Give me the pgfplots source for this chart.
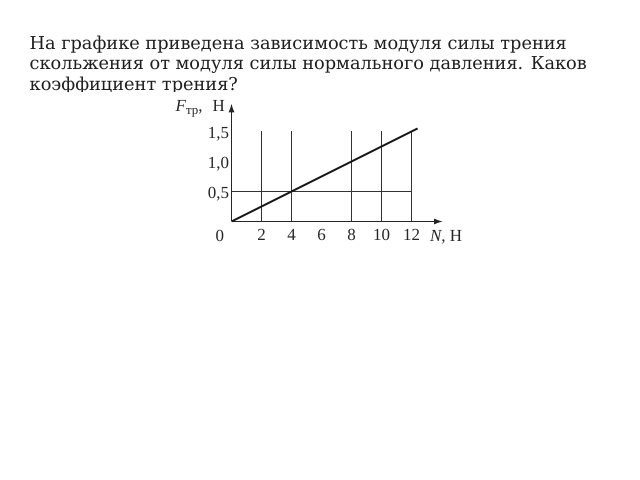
\documentclass[border=0pt]{standalone}
\usepackage{pgfplots}
\pgfplotsset{compat=1.18}
\usepackage{fontspec}
\setmainfont{Liberation Serif}
\newfontfamily\dejaserif{DejaVu Serif}
\usetikzlibrary{arrows.meta}
\begin{document}
\begin{tikzpicture}
\useasboundingbox (0bp,0bp) rectangle (640bp,480bp);
\fill[white] (0bp,0bp) rectangle (640bp,480bp);
\begin{scope}
\clip (0bp,388.5bp) rectangle (640bp,480bp);
\tikzset{txt/.style={anchor=base west, inner sep=0pt, text=black!88,
  font=\dejaserif\fontsize{17.8}{20.7}\selectfont}}
\node[txt] at (29.5bp,430.7bp) {На графике приведена зависимость модуля силы трения};
\node[txt] at (29.5bp,410bp) {скольжения от модуля силы нормального давления. Каков};
\node[txt] at (29.5bp,389.3bp) {коэффициент трения?};
\end{scope}
\begin{scope}[shift={(231.5bp,258.5bp)}]
\begin{axis}[
  at={(0,0)}, anchor=origin,
  x=15bp, y=60bp,
  xmin=0, xmax=14.1, ymin=0, ymax=1.97,
  axis lines=left,
  axis line style={line width=1.5bp, black!85},
  x axis line style={-{Latex[length=9bp,width=6bp]}},
  y axis line style={-{Latex[length=9bp,width=6bp]}},
  major tick length=0pt,
  xtick={2,4,6,8,10,12},
  xticklabels={2,4,6,8,10,12},
  ytick={0.5,1,1.5},
  yticklabels={{0,5},{1,0},{1,5}},
  ticklabel style={font=\fontsize{17}{17}\selectfont, text=black!85},
  xticklabel style={yshift=-4.5bp},
  yticklabel style={xshift=1bp, yshift=-3bp},
  clip=false,
]
% grid lines
\addplot[black!80, line width=0.7bp] coordinates {(2,0) (2,1.5)};
\addplot[black!80, line width=0.7bp] coordinates {(4,0) (4,1.5)};
\addplot[black!80, line width=0.7bp] coordinates {(8,0) (8,1.5)};
\addplot[black!80, line width=0.7bp] coordinates {(10,0) (10,1.5)};
\addplot[black!80, line width=0.7bp] coordinates {(12,0) (12,1.5)};
\addplot[black!80, line width=0.7bp] coordinates {(0,0.5) (12,0.5)};
% data line
\addplot[black!90, line width=1.8bp] coordinates {(0,0) (12.4,1.55)};
\node[anchor=base, font=\fontsize{17}{17}\selectfont, text=black!85] at (axis cs:-0.77,-0.337) {0};
\node[anchor=base west, font=\fontsize{17}{17}\selectfont, text=black!85, inner sep=0pt] at (axis cs:13.23,-0.337) {\textit{N}, Н};
\node[anchor=base east, font=\fontsize{17}{17}\selectfont, text=black!85, inner sep=0pt] at (axis cs:-0.43,1.83) {\textit{F}\raisebox{-0.4ex}{\fontsize{13}{13}\selectfont тр},\hspace{10bp}Н};
\end{axis}
\end{scope}
\end{tikzpicture}
\end{document}
